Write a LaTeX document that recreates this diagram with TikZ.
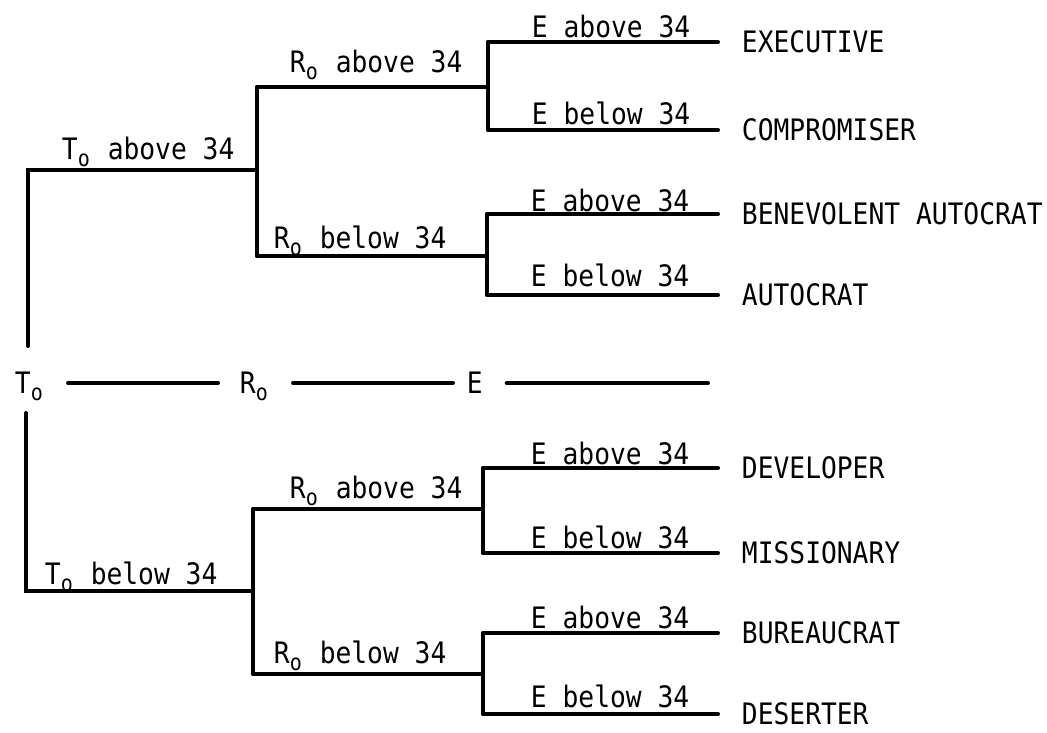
\documentclass[tikz,border=0pt]{standalone}
\usepackage{fontspec}
\setmonofont{DejaVu Sans Mono}[FakeStretch=0.89]
\newcommand{\subo}{\raisebox{-5pt}{\fontsize{16}{16}\selectfont o}\kern1.5pt}
\begin{document}
\begin{tikzpicture}[x=0.025cm, y=-0.025cm, line width=2.8pt, line cap=round,
    txt/.style = {inner sep=0pt, anchor=west, text depth=0pt,
                  font=\ttfamily\fontsize{21}{24}\selectfont},
    leaf/.style = {txt},
    tip/.style = {shorten >=15.6pt}]
    \useasboundingbox (0,0) rectangle (1047,732);

    % Branch points
    \coordinate (tA)  at (28,170);
    \coordinate (tAe) at (28,346);
    \coordinate (rA)  at (257,87);
    \coordinate (rB)  at (257,256);
    \coordinate (eA)  at (488,42);
    \coordinate (eB)  at (488,130);
    \coordinate (eC)  at (487,214);
    \coordinate (eD)  at (487,295);
    \coordinate (tB)  at (26,591);
    \coordinate (tBe) at (26,413);
    \coordinate (rC)  at (253,509);
    \coordinate (rD)  at (253,674);
    \coordinate (eE)  at (483,468);
    \coordinate (eF)  at (483,553);
    \coordinate (eG)  at (483,633);
    \coordinate (eH)  at (483,714);

    % Leaves
    \node[leaf] (exe) at (740,42)  {EXECUTIVE};
    \node[leaf] (com) at (740,130) {COMPROMISER};
    \node[leaf] (ben) at (740,214) {BENEVOLENT AUTOCRAT};
    \node[leaf] (aut) at (740,295) {AUTOCRAT};
    \node[leaf] (dev) at (740,468) {DEVELOPER};
    \node[leaf] (mis) at (740,553) {MISSIONARY};
    \node[leaf] (bur) at (740,633) {BUREAUCRAT};
    \node[leaf] (des) at (740,714) {DESERTER};

    % Middle row
    \node[txt] (mT) at (13,383)  {T\subo};
    \node[txt] (mR) at (238,383) {R\subo};
    \node[txt] (mE) at (465,383) {E};
    \coordinate (mEnd) at (708,383);
    \draw[shorten <=15pt, shorten >=14.2pt] (mT) -- (mR);
    \draw[shorten <=15pt, shorten >=8.5pt]  (mR) -- (mE);
    \draw[shorten <=15.6pt] (mE) -- (mEnd);

    % Upper tree
    \draw (tAe) -- (tA) -- (tA -| rA);
    \draw (rA) -- (rB);
    \draw (rA) -- (rA -| eA);
    \draw (rB) -- (rB -| eC);
    \draw (eA) -- (eB);
    \draw (eC) -- (eD);
    \draw[tip] (eA) -- (exe);
    \draw[tip] (eB) -- (com);
    \draw[tip] (eC) -- (ben);
    \draw[tip] (eD) -- (aut);

    % Lower tree
    \draw (tBe) -- (tB) -- (tB -| rC);
    \draw (rC) -- (rD);
    \draw (rC) -- (rC -| eE);
    \draw (rD) -- (rD -| eG);
    \draw (eE) -- (eF);
    \draw (eG) -- (eH);
    \draw[tip] (eE) -- (dev);
    \draw[tip] (eF) -- (mis);
    \draw[tip] (eG) -- (bur);
    \draw[tip] (eH) -- (des);

    % Branch labels
    \node[txt] (lTa) at (60,148)  {T\subo\ above 34};
    \node[txt] (lRa) at (288,61)  {R\subo\ above 34};
    \node[txt] (lRb) at (272,237) {R\subo\ below 34};
    \node[txt] (lE1) at (530,26)  {E above 34};
    \node[txt] (lE2) at (530,113) {E below 34};
    \node[txt] (lE3) at (529,200) {E above 34};
    \node[txt] (lE4) at (529,275) {E below 34};
    \node[txt] (lTb) at (43,573)  {T\subo\ below 34};
    \node[txt] (lRc) at (288,487) {R\subo\ above 34};
    \node[txt] (lRd) at (272,652) {R\subo\ below 34};
    \node[txt] (lE5) at (529,453) {E above 34};
    \node[txt] (lE6) at (529,537) {E below 34};
    \node[txt] (lE7) at (529,617) {E above 34};
    \node[txt] (lE8) at (529,696) {E below 34};
\end{tikzpicture}
\end{document}
